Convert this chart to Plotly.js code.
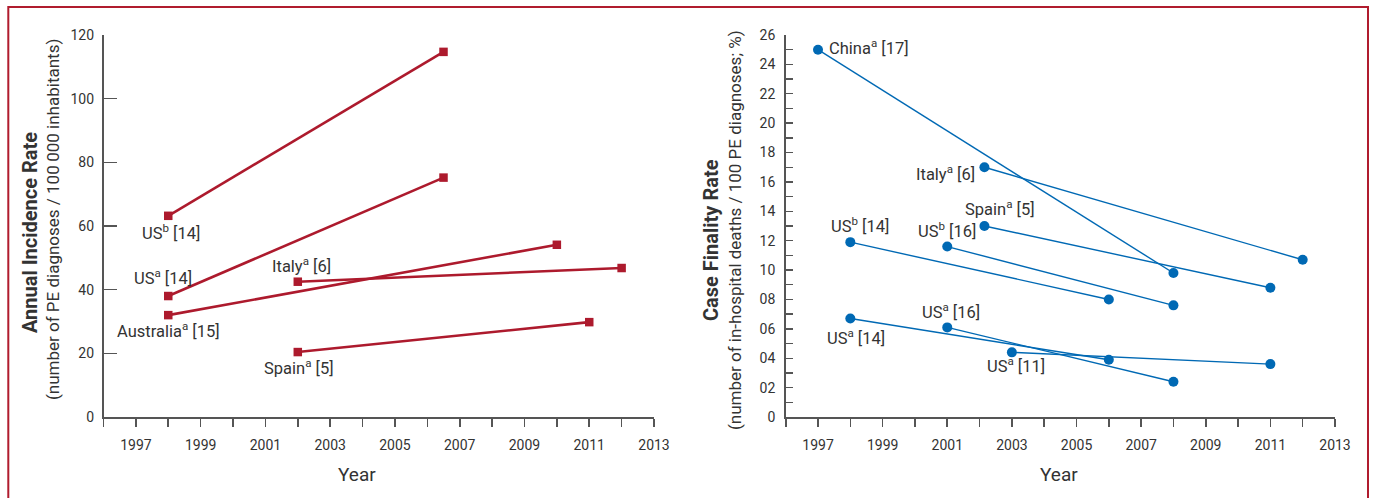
<!DOCTYPE html>
<html>
<head>
<meta charset="utf-8">
<script src="https://cdn.plot.ly/plotly-3.0.1.min.js"></script>
<style>
  html, body { margin: 0; padding: 0; background: #ffffff; }
  #chart { width: 1373px; height: 498px; }
</style>
</head>
<body>
<div id="chart"></div>
<script>
// ---------- Left panel: Annual Incidence Rate ----------
const incLabels     = ['US<sup>b</sup> [14]', 'US<sup>a</sup> [14]', 'Australia<sup>a</sup> [15]', 'Italy<sup>a</sup> [6]', 'Spain<sup>a</sup> [5]'];
const incStartYear  = [1998, 1998, 1998, 2002, 2002];
const incEndYear    = [2006.5, 2006.5, 2010, 2012, 2011];
const incStartValue = [63.2, 38.0, 32.0, 42.5, 20.4];
const incEndValue   = [114.7, 75.2, 54.1, 46.8, 29.8];

// ---------- Right panel: Case Finality Rate ----------
const cfLabels     = ['China<sup>a</sup> [17]', 'Italy<sup>a</sup> [6]', 'Spain<sup>a</sup> [5]', 'US<sup>b</sup> [14]', 'US<sup>b</sup> [16]', 'US<sup>a</sup> [14]', 'US<sup>a</sup> [16]', 'US<sup>a</sup> [11]'];
const cfStartYear  = [1997, 2002.15, 2002.15, 1998, 2001, 1998, 2001, 2003];
const cfEndYear    = [2008, 2012, 2011, 2006, 2008, 2006, 2008, 2011];
const cfStartValue = [25.0, 17.0, 13.0, 11.9, 11.6, 6.7, 6.1, 4.4];
const cfEndValue   = [9.8, 10.7, 8.8, 8.0, 7.6, 3.9, 2.4, 3.6];

// ---------- Tick labels ----------
const yearTicks      = [1996,1997,1998,1999,2000,2001,2002,2003,2004,2005,2006,2007,2008,2009,2010,2011,2012,2013];
const yearTickLabels = ['','1997','','1999','','2001','','2003','','2005','','2007','','2009','','2011','','2013'];
const incTicks       = [0, 20, 40, 60, 80, 100, 120];
const incTickLabels  = ['0', '20', '40', '60', '80', '100', '120'];
const cfTicks        = [0,1,2,3,4,5,6,7,8,9,10,11,12,13,14,15,16,17,18,19,20,21,22,23,24,25,26];
const cfTickLabels   = ['0','','02','','04','','06','','08','','10','','12','','14','','16','','18','','20','','22','','24','','26'];

// ---------- Titles ----------
const incTitleMain = 'Annual Incidence Rate';
const incTitleSub  = '(number of PE diagnoses / 100\u2009000 inhabitants)';
const cfTitleMain  = 'Case Finality Rate';
const cfTitleSub   = '(number of in-hospital deaths / 100 PE diagnoses; %)';
const xTitle       = 'Year';

// ---------- Styles (label placement offsets, in pixels) ----------
const RED = '#AD1A2D';
const BLUE = '#0069B4';
const AXIS = '#555555';
const TEXT = '#333333';
const FONT = 'Roboto, "Open Sans", Arial, sans-serif';

const incLabelStyle = [
  {xs: 3,  ys: -16, xa: 'center'},
  {xs: -5, ys: 19,  xa: 'center'},
  {xs: 0,  ys: -15, xa: 'center'},
  {xs: 4,  ys: 17,  xa: 'center'},
  {xs: 1,  ys: -15, xa: 'center'}
];
const cfLabelStyle = [
  {xs: 9,  ys: 3,   xa: 'left'},
  {xs: -7, ys: -6,  xa: 'right'},
  {xs: 16, ys: 18,  xa: 'center'},
  {xs: 10, ys: 17,  xa: 'center'},
  {xs: 0,  ys: 17,  xa: 'center'},
  {xs: 6,  ys: -18, xa: 'center'},
  {xs: 4,  ys: 16,  xa: 'center'},
  {xs: 4,  ys: -13, xa: 'center'}
];

const traces = [];
const annotations = [];

incLabels.forEach((lab, i) => {
  traces.push({
    x: [incStartYear[i], incEndYear[i]],
    y: [incStartValue[i], incEndValue[i]],
    xaxis: 'x', yaxis: 'y',
    mode: 'lines+markers',
    line: {color: RED, width: 2.6},
    marker: {symbol: 'square', size: 8.5, color: RED},
    cliponaxis: false,
    hoverinfo: 'skip'
  });
  const s = incLabelStyle[i];
  annotations.push({
    xref: 'x', yref: 'y', x: incStartYear[i], y: incStartValue[i],
    text: lab, showarrow: false, xanchor: s.xa, yanchor: 'middle',
    xshift: s.xs, yshift: s.ys,
    font: {family: FONT, size: 16.5, color: TEXT}
  });
});

cfLabels.forEach((lab, i) => {
  traces.push({
    x: [cfStartYear[i], cfEndYear[i]],
    y: [cfStartValue[i], cfEndValue[i]],
    xaxis: 'x2', yaxis: 'y2',
    mode: 'lines+markers',
    line: {color: BLUE, width: 1.4},
    marker: {symbol: 'circle', size: 10, color: BLUE},
    cliponaxis: false,
    hoverinfo: 'skip'
  });
  const s = cfLabelStyle[i];
  annotations.push({
    xref: 'x2', yref: 'y2', x: cfStartYear[i], y: cfStartValue[i],
    text: lab, showarrow: false, xanchor: s.xa, yanchor: 'middle',
    xshift: s.xs, yshift: s.ys,
    font: {family: FONT, size: 16.5, color: TEXT}
  });
});

// axis titles as annotations (precise placement)
const W = 1373, PT = 35, PH = 382;
const px = v => v / W;
const py = v => (PT + PH - v) / PH;
annotations.push(
  {xref: 'paper', yref: 'paper', x: px(30), y: py(233), text: '<b>' + incTitleMain + '</b>', textangle: -90, showarrow: false,
   xanchor: 'center', yanchor: 'middle', font: {family: FONT, size: 20, color: TEXT}},
  {xref: 'paper', yref: 'paper', x: px(53), y: py(220), text: incTitleSub, textangle: -90, showarrow: false,
   xanchor: 'center', yanchor: 'middle', font: {family: FONT, size: 17, color: TEXT}},
  {xref: 'paper', yref: 'paper', x: px(711), y: py(240), text: '<b>' + cfTitleMain + '</b>', textangle: -90, showarrow: false,
   xanchor: 'center', yanchor: 'middle', font: {family: FONT, size: 20, color: TEXT}},
  {xref: 'paper', yref: 'paper', x: px(735), y: py(230), text: cfTitleSub, textangle: -90, showarrow: false,
   xanchor: 'center', yanchor: 'middle', font: {family: FONT, size: 17, color: TEXT}},
  {xref: 'paper', yref: 'paper', x: px(357), y: py(474), text: xTitle, showarrow: false,
   xanchor: 'center', yanchor: 'middle', font: {family: FONT, size: 19, color: TEXT}},
  {xref: 'paper', yref: 'paper', x: px(1059), y: py(474), text: xTitle, showarrow: false,
   xanchor: 'center', yanchor: 'middle', font: {family: FONT, size: 19, color: TEXT}}
);

const xCommon = {
  range: [1996, 2013], showline: true, linecolor: AXIS, linewidth: 1.6,
  ticks: 'outside', ticklen: 8, tickwidth: 1.6, tickcolor: AXIS,
  tickmode: 'array', tickvals: yearTicks, ticktext: yearTickLabels,
  tickfont: {family: FONT, size: 14, color: TEXT}, ticklabelstandoff: 7,
  showgrid: false, zeroline: false, fixedrange: true
};

const layout = {
  width: 1373, height: 498,
  margin: {l: 0, r: 0, t: PT, b: 498 - PT - PH},
  paper_bgcolor: '#ffffff', plot_bgcolor: '#ffffff',
  showlegend: false,
  font: {family: FONT, color: TEXT},
  xaxis: Object.assign({}, xCommon, {domain: [px(103.5), px(654)], anchor: 'y'}),
  xaxis2: Object.assign({}, xCommon, {domain: [px(785.7), px(1335)], anchor: 'y2'}),
  yaxis: {
    domain: [0, 1], anchor: 'x', range: [0, 120], showline: true, linecolor: AXIS, linewidth: 1.6,
    ticks: 'inside', ticklen: 13, tickwidth: 1.6, tickcolor: AXIS,
    tickmode: 'array', tickvals: incTicks, ticktext: incTickLabels,
    tickfont: {family: FONT, size: 14, color: TEXT}, ticklabelstandoff: 5,
    showgrid: false, zeroline: false, fixedrange: true
  },
  yaxis2: {
    domain: [0, 1], anchor: 'x2', range: [0, 26], showline: true, linecolor: AXIS, linewidth: 1.6,
    ticks: 'inside', ticklen: 7, tickwidth: 1.4, tickcolor: AXIS,
    tickmode: 'array', tickvals: cfTicks, ticktext: cfTickLabels,
    tickfont: {family: FONT, size: 14, color: TEXT}, ticklabelstandoff: 6,
    showgrid: false, zeroline: false, fixedrange: true
  },
  annotations: annotations,
  shapes: [{
    type: 'rect', xref: 'paper', yref: 'paper', layer: 'above',
    x0: px(8.3), x1: px(1368), y0: py(520), y1: py(7),
    line: {color: '#B01C2E', width: 2}, fillcolor: 'rgba(0,0,0,0)'
  }]
};

Plotly.newPlot('chart', traces, layout, {staticPlot: true, displayModeBar: false});
</script>
</body>
</html>
